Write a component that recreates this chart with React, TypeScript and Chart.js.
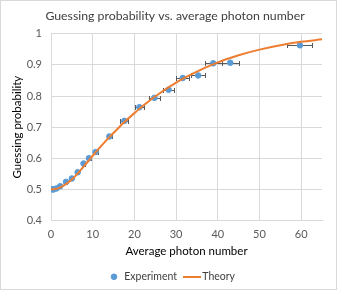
import React, { useEffect, useRef } from "react";
import { Chart, registerables } from "chart.js";

Chart.register(...registerables);

const titleText = "Guessing probability vs. average photon number";
const xTitle = "Average photon number";
const yTitle = "Guessing probability";

const expX = [0.2, 0.6, 1.3, 2.2, 3.6, 5.0, 6.4, 7.8, 9.1, 10.7, 14.0, 17.6, 21.2, 24.8, 28.2, 31.6, 35.3, 38.9, 43.0, 59.7];
const expY = [0.5, 0.5, 0.503, 0.51, 0.524, 0.535, 0.555, 0.583, 0.6, 0.62, 0.67, 0.72, 0.764, 0.794, 0.82, 0.858, 0.866, 0.905, 0.907, 0.963];
const expErr = [0.05, 0.08, 0.12, 0.18, 0.22, 0.28, 0.32, 0.38, 0.42, 0.5, 0.65, 0.95, 1.15, 1.3, 1.4, 1.6, 1.65, 2.0, 2.1, 3.0];

const theoryX = [0, 1, 2, 3, 4, 5, 6, 7, 8, 9, 10, 12, 14, 16, 18, 20, 22, 24, 26, 28, 30, 32, 34, 36, 38, 40, 42, 45, 50, 55, 60, 65];
const theoryY = [0.5, 0.501, 0.505, 0.512, 0.521, 0.532, 0.545, 0.56, 0.576, 0.592, 0.608, 0.639, 0.668, 0.695, 0.721, 0.745, 0.768, 0.789, 0.808, 0.826, 0.843, 0.858, 0.872, 0.885, 0.897, 0.908, 0.918, 0.931, 0.949, 0.963, 0.974, 0.982];

const xTicks = [0, 10, 20, 30, 40, 50, 60];

const BLUE = "#5B9BD5";
const ORANGE = "#ED7D31";
const FONT = "Lato, 'Open Sans', sans-serif";

export default function App() {
  const ref = useRef<HTMLCanvasElement>(null);

  useEffect(() => {
    document.body.style.margin = "0";
    const canvas = ref.current!;
    const lineImg = document.createElement("canvas");
    lineImg.width = 18;
    lineImg.height = 2;
    const lctx = lineImg.getContext("2d")!;
    lctx.fillStyle = ORANGE;
    lctx.fillRect(0, 0, 18, 2);

    const errorBars = {
      id: "errorBars",
      beforeDatasetsDraw(chart: any) {
        const { ctx, scales } = chart;
        const xs = scales.x;
        const ys = scales.y;
        ctx.save();
        ctx.strokeStyle = "#595959";
        ctx.lineWidth = 1;
        expX.forEach((v, i) => {
          const yy = Math.round(ys.getPixelForValue(expY[i])) + 0.5;
          const x1 = Math.round(xs.getPixelForValue(v - expErr[i])) + 0.5;
          const x2 = Math.round(xs.getPixelForValue(v + expErr[i])) + 0.5;
          ctx.beginPath();
          ctx.moveTo(x1, yy);
          ctx.lineTo(x2, yy);
          ctx.moveTo(x1, yy - 2.5);
          ctx.lineTo(x1, yy + 2.5);
          ctx.moveTo(x2, yy - 2.5);
          ctx.lineTo(x2, yy + 2.5);
          ctx.stroke();
        });
        ctx.restore();
      },
    };

    const shiftBoxes = {
      id: "shiftBoxes",
      afterLayout(chart: any) {
        const lg = chart.legend;
        if (lg) {
          lg.left += 11;
          lg.right += 11;
        }
        const tb = chart.titleBlock;
        if (tb) {
          tb.left += 14;
          tb.right += 14;
        }
      },
    };

    const chart = new Chart(canvas, {
      type: "scatter",
      data: {
        datasets: [
          {
            label: "Experiment",
            data: expX.map((x, i) => ({ x, y: expY[i] })),
            backgroundColor: BLUE,
            borderColor: BLUE,
            borderWidth: 1,
            pointRadius: 2.8,
            pointStyle: "circle",
            order: 2,
          },
          {
            label: "Theory",
            data: theoryX.map((x, i) => ({ x, y: theoryY[i] })),
            showLine: true,
            borderColor: ORANGE,
            backgroundColor: ORANGE,
            borderWidth: 2,
            pointRadius: 0,
            pointStyle: lineImg as any,
            cubicInterpolationMode: "monotone",
            order: 1,
          } as any,
        ],
      },
      plugins: [errorBars, shiftBoxes],
      options: {
        animation: false,
        responsive: false,
        maintainAspectRatio: false,
        layout: { padding: { left: 0, right: 16, top: 0, bottom: 0 } },
        plugins: {
          tooltip: { enabled: false },
          title: {
            display: true,
            text: titleText,
            color: "#404040",
            font: { family: FONT, size: 12.3, weight: "normal" },
            padding: { top: 9, bottom: 10 },
          },
          legend: {
            position: "bottom",
            labels: {
              usePointStyle: true,
              boxWidth: 10,
              boxHeight: 4,
              padding: 10,
              color: "#404040",
              font: { family: FONT, size: 10.5 },
              sort: (a: any, b: any) => a.datasetIndex - b.datasetIndex,
            },
          },
        },
        scales: {
          x: {
            type: "linear",
            min: 0,
            max: 65,
            afterBuildTicks: (s: any) => {
              s.ticks = xTicks.map((v) => ({ value: v }));
            },
            afterFit: (s: any) => {
              s.height = 41;
            },
            ticks: {
              color: "#595959",
              font: { family: FONT, size: 11 },
              padding: 7,
              maxRotation: 0,
            },
            grid: { color: "#d9d9d9", drawTicks: false },
            border: { color: "#d9d9d9" },
            title: {
              display: true,
              text: xTitle,
              color: "#000000",
              font: { family: FONT, size: 11.5 },
              padding: { top: 3, bottom: 3 },
            },
          },
          y: {
            type: "linear",
            min: 0.4,
            max: 1,
            afterFit: (s: any) => {
              s.width = 51;
            },
            ticks: {
              stepSize: 0.1,
              color: "#595959",
              font: { family: FONT, size: 11 },
              padding: 9,
              callback: (v: any) => String(Number(Number(v).toFixed(1))),
            },
            grid: { color: "#d9d9d9", drawTicks: false },
            border: { color: "#d9d9d9" },
            title: {
              display: true,
              text: yTitle,
              color: "#000000",
              font: { family: FONT, size: 11.5 },
              padding: { top: 10, bottom: 0 },
            },
          },
        },
      },
    });
    return () => chart.destroy();
  }, []);

  return (
    <div style={{ position: "relative", width: 338, height: 292 }}>
      <div
        style={{
          position: "absolute",
          left: 0,
          top: 0,
          width: 337,
          height: 290,
          boxSizing: "border-box",
          border: "1px solid #d9d9d9",
        }}
      />
      <canvas ref={ref} width={338} height={292} style={{ position: "absolute", left: 0, top: 0, width: 338, height: 292 }} />
    </div>
  );
}
